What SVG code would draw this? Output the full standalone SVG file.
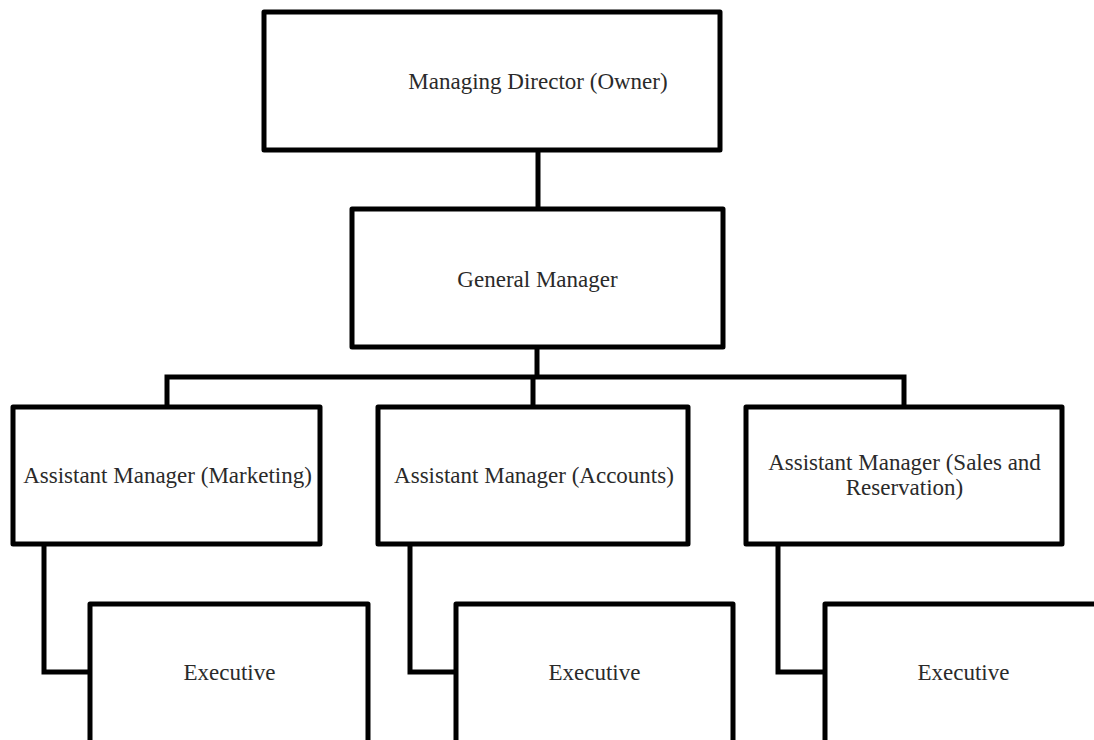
<svg xmlns="http://www.w3.org/2000/svg" width="1094" height="740" viewBox="0 0 1094 740">
<style>
.box{fill:#fff;stroke:#000;stroke-width:5;stroke-linejoin:round}
.conn{fill:none;stroke:#000;stroke-width:5;stroke-linejoin:miter}
.lbl{font-family:"Liberation Serif","Times New Roman",serif;font-size:23px;fill:#2a2a2a;text-anchor:middle}
</style>
<rect width="1094" height="740" fill="#fff"/>
<g id="connectors">
<path class="conn" d="M538 150 V209"/>
<path class="conn" d="M537 347 V377"/>
<path class="conn" d="M167 407 V377 H904 V407"/>
<path class="conn" d="M533 377 V407"/>
<path class="conn" d="M44 544 V672 H90"/>
<path class="conn" d="M410 544 V672 H456"/>
<path class="conn" d="M778 544 V672 H825"/>
</g>
<g id="md">
<rect class="box" x="264" y="12" width="456" height="138"/>
<text class="lbl" x="538" y="89">Managing Director (Owner)</text>
</g>
<g id="gm">
<rect class="box" x="352" y="209" width="371" height="138"/>
<text class="lbl" x="537.5" y="287">General Manager</text>
</g>
<g id="am-marketing">
<rect class="box" x="13" y="407" width="307" height="137"/>
<text class="lbl" x="167.5" y="483">Assistant Manager (Marketing)</text>
</g>
<g id="am-accounts">
<rect class="box" x="378" y="407" width="310" height="137"/>
<text class="lbl" x="534" y="483">Assistant Manager (Accounts)</text>
</g>
<g id="am-sales">
<rect class="box" x="746" y="407" width="316" height="137"/>
<text class="lbl" x="904.5" y="470">Assistant Manager (Sales and</text>
<text class="lbl" x="904.5" y="495">Reservation)</text>
</g>
<g id="exec-marketing">
<rect class="box" x="90" y="604" width="278" height="150"/>
<text class="lbl" x="229.5" y="680">Executive</text>
</g>
<g id="exec-accounts">
<rect class="box" x="456" y="604" width="277" height="150"/>
<text class="lbl" x="594.5" y="680">Executive</text>
</g>
<g id="exec-sales">
<rect class="box" x="825" y="604" width="278" height="150"/>
<text class="lbl" x="963.5" y="680">Executive</text>
</g>
</svg>
